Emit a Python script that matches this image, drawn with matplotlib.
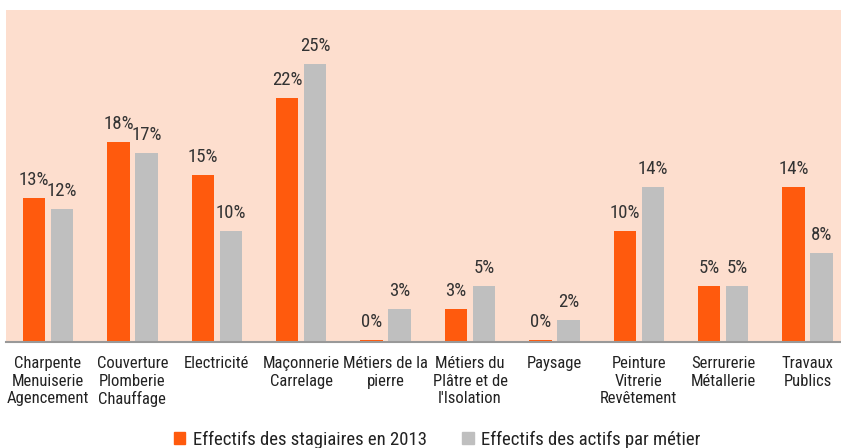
import matplotlib
matplotlib.use("Agg")
import matplotlib.pyplot as plt
from matplotlib import font_manager
from matplotlib.patches import Patch
import numpy as np

categories = [
    "Charpente\nMenuiserie\nAgencement",
    "Couverture\nPlomberie\nChauffage",
    "Electricité",
    "Maçonnerie\nCarrelage",
    "Métiers de la\npierre",
    "Métiers du\nPlâtre et de\nl'Isolation",
    "Paysage",
    "Peinture\nVitrerie\nRevêtement",
    "Serrurerie\nMétallerie",
    "Travaux\nPublics",
]
stagiaires = [13, 18, 15, 22, 0.2, 3, 0.2, 10, 5, 14]
actifs = [12, 17, 10, 25, 3, 5, 2, 14, 5, 8]
series_names = ["Effectifs des stagiaires en 2013", "Effectifs des actifs par métier"]

ORANGE = "#FF5A0D"
GREY = "#BFBFBF"
BG = "#FDDECE"
TXT = "#333333"

# pick a narrow font if there is one
names = {f.name for f in font_manager.fontManager.ttflist}
font = "Roboto"
scale = 0.82
for cand in ["Roboto Condensed", "Liberation Sans Narrow", "Open Sans Condensed"]:
    if cand in names:
        font = cand
        scale = 1.0
        break
plt.rcParams["font.family"] = [font, "DejaVu Sans"]

fig = plt.figure(figsize=(8.41, 4.48), dpi=100)
ax = fig.add_axes([6 / 841, 106 / 448, 835 / 841, 332 / 448])
ax.set_facecolor(BG)

x = np.arange(len(categories))
w = 0.265
off = 0.166
b1 = ax.bar(x - off, stagiaires, w, color=ORANGE)
b2 = ax.bar(x + off, actifs, w, color=GREY)

for bars, vals in [(b1, stagiaires), (b2, actifs)]:
    for b, v in zip(bars, vals):
        ax.annotate(f"{round(v)}%", (b.get_x() + b.get_width() / 2, v),
                    xytext=(0, 6.5), textcoords="offset points",
                    ha="center", va="bottom", fontsize=13.5 * scale, color=TXT)

ax.set_xlim(-0.498, 9.396)
ax.set_ylim(0, 29.9)
ax.set_yticks([])
ax.set_xticks(x)
ax.set_xticklabels(categories, fontsize=12 * scale, color="#222222", linespacing=1.22)
ax.tick_params(axis="x", length=0, pad=10)
for s in ["top", "right", "left"]:
    ax.spines[s].set_visible(False)
ax.spines["bottom"].set_color("#999999")
ax.spines["bottom"].set_linewidth(1.5)

handles = [Patch(color=ORANGE), Patch(color=GREY)]
fig.legend(handles, series_names, loc="lower center", bbox_to_anchor=(0.52, -0.04),
           ncol=2, frameon=False, fontsize=13.5 * scale, handlelength=0.6,
           handleheight=0.6, handletextpad=0.4, columnspacing=1.9, labelcolor="#222222")

fig.savefig("out.png", dpi=100)
